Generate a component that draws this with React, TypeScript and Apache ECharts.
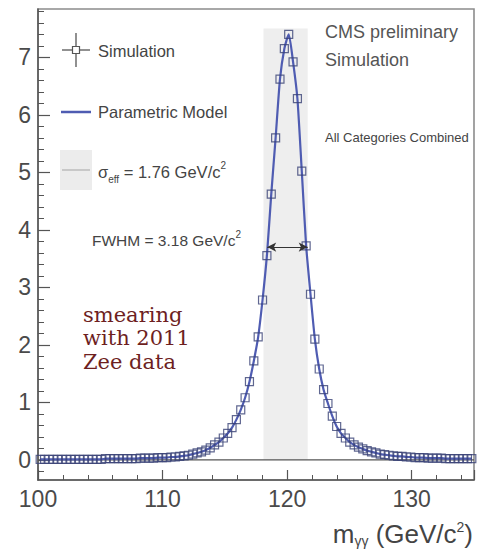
import { useEffect, useRef } from "react";
import * as echarts from "echarts";

// Histogram binning: 100 bins over 100–135 GeV
const X_MIN = 100;
const X_MAX = 135;
const BIN_WIDTH = 0.35;

// Simulated diphoton mass distribution (per bin)
const simValues = [
  0.01, 0.01, 0.01, 0.01, 0.01, 0.01, 0.01, 0.01, 0.01, 0.01,
  0.01, 0.01, 0.01, 0.01, 0.01, 0.02, 0.02, 0.02, 0.02, 0.02,
  0.02, 0.02, 0.02, 0.03, 0.03, 0.03, 0.03, 0.04, 0.04, 0.04,
  0.05, 0.05, 0.06, 0.07, 0.08, 0.1, 0.12, 0.14, 0.17, 0.21,
  0.26, 0.31, 0.38, 0.46, 0.56, 0.7, 0.87, 1.08, 1.36, 1.72,
  2.14, 2.78, 3.55, 4.62, 5.6, 6.62, 7.15, 7.4, 6.92, 6.28,
  5.02, 3.72, 2.88, 2.1, 1.58, 1.22, 0.98, 0.76, 0.58, 0.46,
  0.38, 0.31, 0.26, 0.22, 0.19, 0.16, 0.14, 0.12, 0.1, 0.09,
  0.08, 0.07, 0.06, 0.06, 0.05, 0.05, 0.04, 0.04, 0.04, 0.03,
  0.03, 0.03, 0.03, 0.02, 0.02, 0.02, 0.02, 0.02, 0.02, 0.02,
];

// sigma_eff window and FWHM marker
const effWindow = [118.1, 121.65];
const effWindowTop = 7.5;
const fwhmEnds = [118.4, 121.65];
const fwhmLevel = 3.7;

// Axis ticks
const xTickInterval = 10;
const yMin = -0.35;
const yMax = 7.84;
const yMajorTicks = [0, 1, 2, 3, 4, 5, 6, 7];
const yMinorSteps = [0.2, 0.4, 0.6, 0.8];

const binCenters = simValues.map((_, i) => +(X_MIN + BIN_WIDTH * (i + 0.5)).toFixed(3));
const simPoints = simValues.map((v, i) => [binCenters[i], v]);

const yMinorTicks: number[] = [];
[-1, ...yMajorTicks].forEach((t) =>
  yMinorSteps.forEach((s) => {
    const v = +(t + s).toFixed(2);
    if (v > yMin && v < yMax) yMinorTicks.push(v);
  })
);

const SANS = "Liberation Sans, Arial, sans-serif";
const GREY = "#4a4a4a";
const MODEL_BLUE = "#4f5cb2";
const MARKER_EDGE = "#384175";

export default function App() {
  const ref = useRef<HTMLDivElement>(null);

  useEffect(() => {
    document.body.style.margin = "0";
    if (!ref.current) return;
    const chart = echarts.init(ref.current, null, { renderer: "svg" });

    chart.setOption({
      animation: false,
      backgroundColor: "#ffffff",
      grid: {
        left: 38,
        right: 8,
        top: 9,
        bottom: 72,
        outerBoundsMode: "none",
        containLabel: false,
        show: true,
        borderColor: "#8c8c8c",
        borderWidth: 1.6,
        backgroundColor: "transparent",
      },
      xAxis: {
        type: "value",
        min: X_MIN,
        max: X_MAX,
        interval: xTickInterval,
        axisLine: { onZero: false, lineStyle: { color: "#555", width: 1.5 } },
        axisTick: { inside: true, length: 10, lineStyle: { color: "#555", width: 1.2 } },
        minorTick: { show: true, splitNumber: 5, length: 5, lineStyle: { color: "#555", width: 1 } },
        axisLabel: { fontSize: 23, color: GREY, fontFamily: SANS, margin: 7, showMaxLabel: false },
        splitLine: { show: false },
      },
      yAxis: [
        {
          type: "value",
          min: yMin,
          max: yMax,
          axisLine: { show: true, onZero: false, lineStyle: { color: "#555", width: 1.5 } },
          axisTick: {
            show: true,
            inside: true,
            length: 12,
            customValues: yMajorTicks,
            lineStyle: { color: "#555", width: 1.2 },
          },
          axisLabel: {
            fontSize: 23,
            color: GREY,
            fontFamily: SANS,
            margin: 7,
            customValues: yMajorTicks,
          },
          splitLine: { show: false },
        },
        {
          type: "value",
          min: yMin,
          max: yMax,
          position: "left",
          axisLine: { show: false },
          axisLabel: { show: false },
          axisTick: {
            show: true,
            inside: true,
            length: 6,
            customValues: yMinorTicks,
            lineStyle: { color: "#555", width: 1 },
          },
          splitLine: { show: false },
        },
      ],
      series: [
        {
          name: "zero",
          type: "line",
          z: 1,
          silent: true,
          symbol: "none",
          data: [
            [X_MIN, 0],
            [X_MAX, 0],
          ],
          lineStyle: { color: "#555", width: 1.2 },
        },
        {
          name: "sigma_eff",
          type: "line",
          z: 2,
          silent: true,
          symbol: "none",
          data: [[effWindow[0], 0]],
          lineStyle: { opacity: 0 },
          markArea: {
            silent: true,
            itemStyle: { color: "#eeeeee" },
            data: [[{ coord: [effWindow[0], 0] }, { coord: [effWindow[1], effWindowTop] }]],
          },
        },
        {
          name: "Parametric Model",
          type: "line",
          z: 3,
          silent: true,
          symbol: "none",
          smooth: 0.2,
          data: simPoints,
          lineStyle: { color: MODEL_BLUE, width: 2.2 },
        },
        {
          name: "Simulation",
          type: "scatter",
          z: 4,
          silent: true,
          symbol: "rect",
          symbolSize: [8, 8],
          data: simPoints,
          itemStyle: { color: "rgba(255,255,255,0)", borderColor: MARKER_EDGE, borderWidth: 1.2 },
        },
        {
          name: "FWHM",
          type: "line",
          z: 5,
          silent: true,
          symbol: "none",
          data: [[fwhmEnds[0], fwhmLevel]],
          lineStyle: { opacity: 0 },
          markLine: {
            silent: true,
            symbol: ["arrow", "arrow"],
            symbolSize: [7, 9],
            label: { show: false },
            lineStyle: { color: "#333", width: 1.2, type: "solid" },
            data: [[{ coord: [fwhmEnds[0], fwhmLevel] }, { coord: [fwhmEnds[1], fwhmLevel] }]],
          },
        },
      ],
      graphic: [
        // Legend: Simulation (marker with error cross)
        { type: "line", shape: { x1: 62, y1: 50, x2: 90, y2: 50 }, style: { stroke: "#555", lineWidth: 1.3 } },
        { type: "line", shape: { x1: 76, y1: 33, x2: 76, y2: 67 }, style: { stroke: "#555", lineWidth: 1.3 } },
        {
          type: "rect",
          shape: { x: 72.5, y: 46.5, width: 7, height: 7 },
          style: { fill: "#fff", stroke: "#555", lineWidth: 1.2 },
        },
        {
          type: "text",
          x: 98,
          y: 51,
          style: { text: "Simulation", fontSize: 16.5, fontFamily: SANS, fill: "#444", verticalAlign: "middle" },
        },
        // Legend: Parametric Model
        { type: "line", shape: { x1: 61, y1: 112, x2: 91, y2: 112 }, style: { stroke: MODEL_BLUE, lineWidth: 2.5 } },
        {
          type: "text",
          x: 98,
          y: 112,
          style: { text: "Parametric Model", fontSize: 16.5, fontFamily: SANS, fill: "#444", verticalAlign: "middle" },
        },
        // Legend: sigma_eff window
        { type: "rect", shape: { x: 60, y: 150, width: 32, height: 40 }, style: { fill: "#ececec" } },
        { type: "line", shape: { x1: 62, y1: 170, x2: 90, y2: 170 }, style: { stroke: "#bdbdbd", lineWidth: 1.5 } },
        {
          type: "text",
          x: 98,
          y: 172,
          style: {
            text: "{a|σ}{b|eff}{a| = 1.76 GeV/c}{c|2}",
            verticalAlign: "middle",
            fill: "#444",
            rich: {
              a: { fontSize: 16.5, fontFamily: SANS, fill: "#444", lineHeight: 24, verticalAlign: "middle" },
              b: { fontSize: 10, fontFamily: SANS, fill: "#444", lineHeight: 12, verticalAlign: "bottom" },
              c: { fontSize: 10, fontFamily: SANS, fill: "#444", lineHeight: 12, verticalAlign: "top" },
            },
          },
        },
        // FWHM annotation
        {
          type: "text",
          x: 92,
          y: 240,
          style: {
            text: "{a|FWHM = 3.18 GeV/c}{c|2}",
            verticalAlign: "middle",
            fill: "#444",
            rich: {
              a: { fontSize: 15.5, fontFamily: SANS, fill: "#444", lineHeight: 22, verticalAlign: "middle" },
              c: { fontSize: 10, fontFamily: SANS, fill: "#444", lineHeight: 12, verticalAlign: "top" },
            },
          },
        },
        // Header texts
        {
          type: "text",
          x: 325,
          y: 32,
          style: { text: "CMS preliminary", fontSize: 18, fontFamily: SANS, fill: "#555", verticalAlign: "middle" },
        },
        {
          type: "text",
          x: 325,
          y: 60,
          style: { text: "Simulation", fontSize: 18, fontFamily: SANS, fill: "#555", verticalAlign: "middle" },
        },
        {
          type: "text",
          x: 325,
          y: 137,
          style: { text: "All Categories Combined", fontSize: 13, fontFamily: SANS, fill: "#444", verticalAlign: "middle" },
        },
        // Smearing note
        {
          type: "text",
          x: 83,
          y: 338,
          style: {
            text: "smearing\nwith 2011\nZee data",
            fontSize: 21,
            lineHeight: 23.5,
            fontFamily: "DejaVu Serif, serif",
            fill: "#6e1f1f",
            verticalAlign: "middle",
          },
        },
        // x-axis title
        {
          type: "text",
          x: 473,
          y: 534,
          style: {
            text: "{a|m}{b|γγ}{a| (GeV/c}{c|2}{a|)}",
            align: "right",
            verticalAlign: "middle",
            fill: "#444",
            rich: {
              a: { fontSize: 26, fontFamily: SANS, fill: "#444", lineHeight: 28, verticalAlign: "middle" },
              b: { fontSize: 14, fontFamily: SANS, fill: "#444", lineHeight: 15, verticalAlign: "bottom" },
              c: { fontSize: 14, fontFamily: SANS, fill: "#444", lineHeight: 15, verticalAlign: "top" },
            },
          },
        },
      ],
    });

    return () => chart.dispose();
  }, []);

  return <div ref={ref} style={{ width: 482, height: 552 }} />;
}
